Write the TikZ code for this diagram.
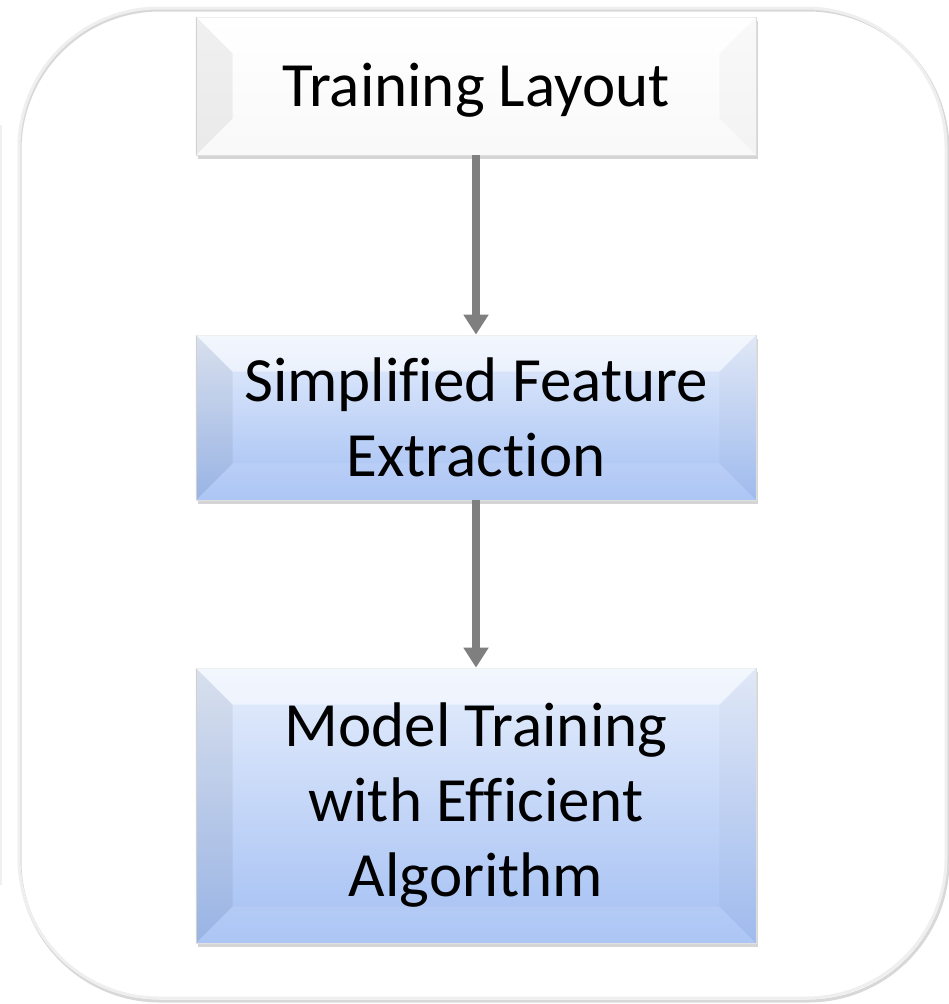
\documentclass[tikz,border=0pt]{standalone}
\usepackage{fontspec}
\setmainfont[Ligatures={NoCommon,NoContextual}]{Carlito}
\usetikzlibrary{arrows.meta,shadows,calc}
\definecolor{arrowgray}{HTML}{7F7F7F}
\definecolor{blueTop}{HTML}{E6EEFC}
\definecolor{blueBot}{HTML}{A3BFF3}
\definecolor{frameLine}{HTML}{EFEFEF}
\definecolor{frameShadow}{HTML}{D8D8D8}
\newcommand\mybevel[1]{%
  \fill[white,opacity=0.5] (#1.north west) -- (#1.north east) -- ([xshift=-37pt,yshift=-37pt]#1.north east) -- ([xshift=37pt,yshift=-37pt]#1.north west) -- cycle;
  \fill[black,opacity=0.06] (#1.north west) -- ([xshift=37pt,yshift=-37pt]#1.north west) -- ([xshift=37pt,yshift=37pt]#1.south west) -- (#1.south west) -- cycle;
  \fill[black,opacity=0.025] (#1.north east) -- ([xshift=-37pt,yshift=-37pt]#1.north east) -- ([xshift=-37pt,yshift=37pt]#1.south east) -- (#1.south east) -- cycle;
  \fill[white,opacity=0.1] (#1.south west) -- ([xshift=37pt,yshift=37pt]#1.south west) -- ([xshift=-37pt,yshift=37pt]#1.south east) -- (#1.south east) -- cycle;
}
\begin{document}
\begin{tikzpicture}[x=1pt,y=-1pt,
  stepbox/.style={rectangle, draw=gray!25, line width=0.8pt, minimum width=560pt,
    align=center, font=\fontsize{63}{75}\selectfont, inner sep=0pt,
    drop shadow={shadow xshift=2pt, shadow yshift=-4pt, opacity=0.3, fill=black!55}},
  whitebox/.style={stepbox, top color=white, bottom color=gray!5},
  bluebox/.style={stepbox, top color=blueTop, bottom color=blueBot},
  label/.style={align=center, font=\fontsize{63}{75}\selectfont},
  flow/.style={draw=arrowgray, line width=8pt, -{Triangle[width=24pt,length=20pt]}}]
\useasboundingbox (0,0) rectangle (949,1004);
% partial neighbour frame at the left edge
\draw[frameLine, line width=2pt] (1,125) -- (1,885);
% outer frame
\draw[frameShadow, line width=3pt, rounded corners=140pt] (20,10) rectangle (948,1001);
\draw[frameLine, line width=3pt, rounded corners=140pt] (19,8) rectangle (946,998);
% boxes
\node[whitebox, minimum height=138pt] (b1) at (476,86) {};
\node[bluebox, minimum height=165pt] (b2) at (476,417.5) {};
\node[bluebox, minimum height=275pt] (b3) at (476,805.5) {};
\mybevel{b1}
\mybevel{b2}
\mybevel{b3}
\node[label] (t1) at ([yshift=-4pt]b1.center) {Training Layout};
\node[label] (t2) at (b2.center) {Simplified Feature\\Extraction};
\node[label] (t3) at (b3.center) {Model Training\\with Efficient\\Algorithm};
% connectors
\draw[flow] (b1.south) -- (b2.north);
\draw[flow] (b2.south) -- (b3.north);
\end{tikzpicture}
\end{document}
